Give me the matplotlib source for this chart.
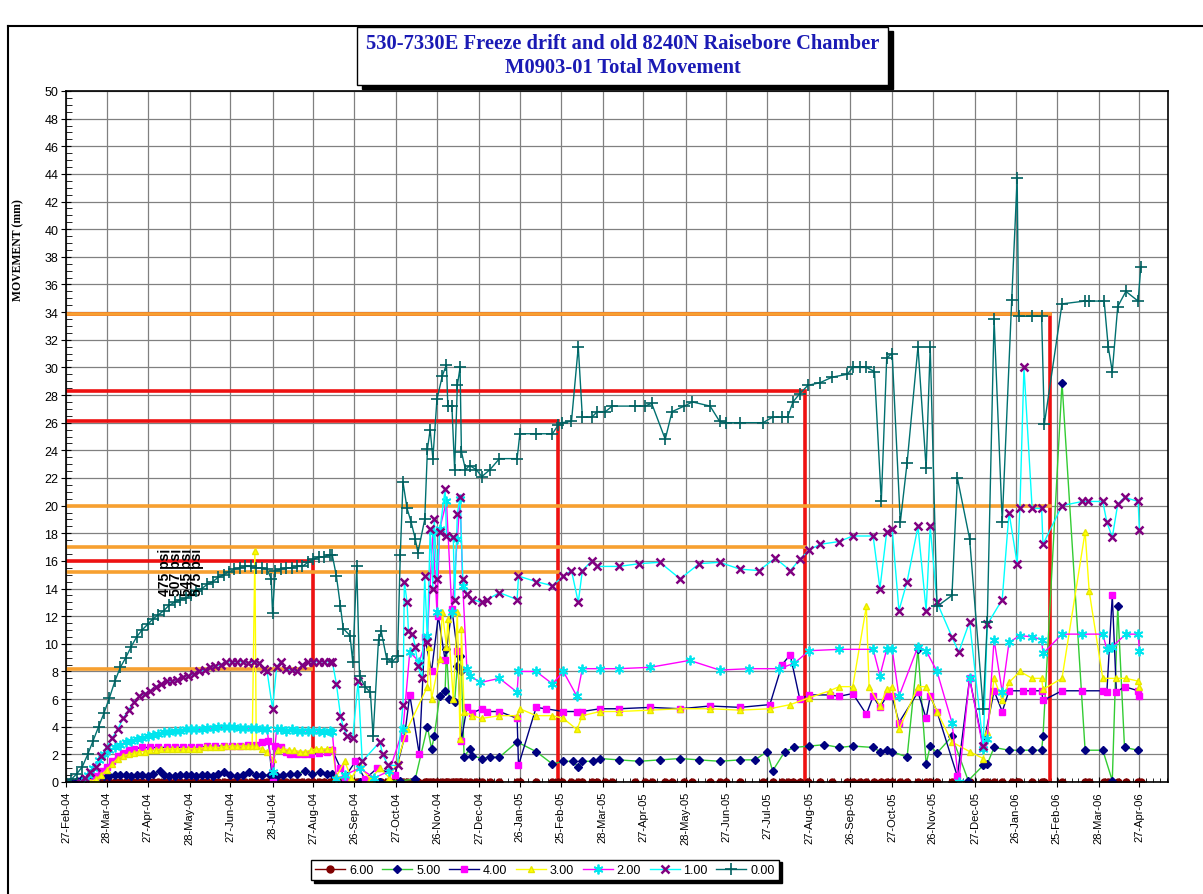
import matplotlib
matplotlib.use("Agg")

import matplotlib.pyplot as plt
import matplotlib.patches as mpatches
from matplotlib.lines import Line2D
from matplotlib.ticker import MultipleLocator
import numpy as np
import pandas as pd

W, H = 1203, 895
START = pd.Timestamp("2004-02-27")

TICK_LABELS = [
    "27-Feb-04", "28-Mar-04", "27-Apr-04", "28-May-04", "27-Jun-04", "28-Jul-04",
    "27-Aug-04", "26-Sep-04", "27-Oct-04", "26-Nov-04", "27-Dec-04", "26-Jan-05",
    "25-Feb-05", "28-Mar-05", "27-Apr-05", "28-May-05", "27-Jun-05", "27-Jul-05",
    "27-Aug-05", "26-Sep-05", "27-Oct-05", "26-Nov-05", "27-Dec-05", "26-Jan-06",
    "25-Feb-06", "28-Mar-06", "27-Apr-06",
]

# --- readings: days after 27-Feb-04 and movement (mm) -----------------------
# 0.00 m
D0 = [0, 4, 8, 12, 16, 20, 24, 28, 32, 36, 40, 44, 48, 52, 56, 60, 64, 68, 72, 76,
      80, 84, 88, 92, 96, 100, 104, 108, 112, 116, 120, 124, 128, 132, 136, 140, 144,
      148, 151, 152, 154, 158, 162, 166, 170, 174, 178, 182, 186, 190, 194, 196,
      199, 202, 204, 209, 211, 214, 216, 220, 224, 226, 230, 232, 236, 240, 244, 246,
      248, 251, 254, 257, 259, 264, 266, 268, 270, 273, 277, 280, 281, 284, 286, 288,
      290, 291, 294, 297, 302, 306, 312, 319, 332, 334, 346, 358, 362, 365, 372, 377,
      380, 387, 391, 397, 402, 419, 426, 431, 441, 446, 455, 461, 474, 481, 486, 496,
      513, 520, 527, 531, 535, 540, 546, 555, 564, 575, 579, 584, 589, 595, 600, 604,
      608, 614, 619, 627, 633, 636, 641, 652, 656, 665, 675, 678, 683, 689, 696, 700,
      701, 711, 718, 720, 733, 750, 753, 764, 767, 770, 774, 780, 789, 791]
V0 = [0.0, 0.2, 0.6, 1.1, 2.0, 3.0, 4.0, 5.0, 6.1, 7.3, 8.3, 9.0, 9.8, 10.5, 11.0,
      11.4, 11.8, 12.1, 12.4, 12.8, 13.0, 13.2, 13.3, 13.5, 13.8, 14.0, 14.3, 14.5,
      14.8, 15.0, 15.2, 15.4, 15.5, 15.6, 15.6, 15.5, 15.5, 15.4, 14.7, 12.2, 15.3,
      15.4, 15.5, 15.5, 15.6, 15.6, 15.9, 16.1, 16.3, 16.3, 16.4, 16.4,
      14.9, 12.7, 11.1, 10.6, 8.7, 15.6, 7.7, 6.9, 6.5, 3.3, 10.3, 10.9, 8.9, 8.7, 9.1,
      16.4, 21.7, 19.8, 18.8, 17.6, 16.6, 19.0, 24.1, 25.5, 23.4, 27.7, 29.4, 30.2,
      27.2, 27.2, 22.6, 28.7, 30.0, 23.9, 22.6, 22.9, 22.6, 22.1, 22.6, 23.4, 23.4,
      25.2, 25.2, 25.2, 25.8, 26.0, 26.1, 31.5, 26.4, 26.4, 26.8, 26.8, 27.2, 27.2,
      27.2, 27.4, 24.8, 26.8, 27.2, 27.5, 27.2, 26.1, 26.0, 26.0, 26.0, 26.4, 26.4,
      26.4, 27.5, 28.1, 28.7, 28.9, 29.3, 29.5, 30.0, 30.0, 30.0, 29.7, 20.3, 30.7,
      31.0, 18.8, 23.1, 31.5, 22.7, 31.5, 12.7, 13.5, 22.0, 17.6, 5.3, 11.6, 33.5,
      18.8, 34.9, 43.7, 33.7, 33.7, 33.7, 25.9, 34.6, 34.8, 34.8, 34.8, 31.5, 29.7,
      34.4, 35.5, 34.8, 37.3]

# 1.00 m
D1 = [10, 14, 18, 22, 26, 30, 34, 38, 42, 46, 50, 54, 58, 62, 66, 70, 74, 78, 82, 86,
      90, 94, 98, 102, 106, 110, 114, 118, 122, 126, 130, 134, 138, 142, 146, 148, 152,
      155, 158, 162, 166, 170, 174, 178, 182, 186, 190, 194, 196,
      199, 202, 204, 207, 211, 215, 218, 231, 233, 237, 244, 248, 249, 251, 252, 255,
      257, 259, 262, 264, 266, 268, 270, 271, 273, 275, 279, 280, 285, 286, 288, 290,
      292, 295, 299, 306, 310, 319, 332, 333, 346, 358, 366, 372, 377, 380, 387, 391,
      407, 422, 437, 452, 466, 481, 496, 510, 522, 533, 540, 547, 555, 569, 579, 594,
      599, 604, 608, 613, 619, 627, 633, 636, 641, 652, 657, 665, 675, 678, 689, 694,
      700, 702, 705, 711, 718, 719, 733, 748, 752, 763, 766, 770, 774, 779, 789, 790]
V1 = [0.0, 0.3, 0.7, 1.1, 1.9, 2.5, 3.2, 3.8, 4.6, 5.2, 5.8, 6.2, 6.4, 6.6, 6.9, 7.1,
      7.3, 7.3, 7.4, 7.6, 7.7, 7.8, 8.0, 8.1, 8.3, 8.4, 8.5, 8.7, 8.7, 8.7, 8.7, 8.6,
      8.7, 8.6, 8.2, 8.0, 5.3, 8.3, 8.7, 8.2, 8.1, 8.0, 8.5, 8.7, 8.7, 8.7, 8.7, 8.7,
      8.7,
      7.1, 4.8, 4.0, 3.3, 3.2, 7.3, 1.5, 2.9, 2.0, 1.2, 1.2, 5.6, 14.5, 13.0, 10.9,
      10.7, 9.8, 8.4, 7.5, 14.9, 10.1, 18.3, 14.0, 19.0, 14.7, 18.1, 21.2, 17.8, 17.7,
      13.2, 19.4, 20.6, 14.7, 13.6, 13.2, 13.0, 13.2, 13.7, 13.2, 14.9, 14.5, 14.2,
      14.9, 15.3, 13.0, 15.3, 16.0, 15.6, 15.6, 15.8, 15.9, 14.7, 15.8, 15.9, 15.4,
      15.3, 16.2, 15.3, 16.1, 16.8, 17.2, 17.4, 17.8, 17.8, 14.0, 18.1, 18.3, 12.4,
      14.5, 18.5, 12.4, 18.5, 13.0, 10.5, 9.4, 11.6, 2.6, 11.4, 13.2, 19.5, 15.8,
      19.8, 30.0, 19.8, 19.8, 17.2, 20.0, 20.3, 20.3, 20.3, 18.8, 17.7, 20.1, 20.6,
      20.3, 18.2]

# 2.00 m
D2 = [12, 16, 20, 24, 28, 32, 36, 40, 44, 48, 52, 56, 60, 64, 68, 72, 76, 80, 84, 88,
      92, 96, 100, 104, 108, 112, 116, 120, 124, 128, 132, 136, 140, 144, 148, 152,
      155, 158, 162, 166, 170, 174, 178, 182, 186, 190, 194, 196,
      199, 205, 216, 227, 238, 248, 253, 260, 266, 270, 273, 275, 280, 284, 288, 290,
      292, 295, 297, 305, 319, 332, 333, 346, 358, 366, 376, 380, 393, 407, 430, 459,
      481, 503, 525, 536, 547, 569, 594, 599, 604, 608, 613, 627, 633, 641, 652, 657,
      665, 675, 678, 683, 689, 694, 702, 711, 718, 719, 733, 748, 763, 766, 770, 780,
      789, 790]
V2 = [0.0, 0.5, 1.0, 1.6, 2.0, 2.3, 2.5, 2.7, 2.9, 3.0, 3.1, 3.2, 3.3, 3.4, 3.5, 3.6,
      3.6, 3.7, 3.7, 3.8, 3.8, 3.8, 3.8, 3.9, 3.9, 4.0, 4.0, 4.0, 4.0, 3.9, 3.9, 3.9,
      3.9, 3.8, 3.8, 0.7, 3.8, 3.8, 3.7, 3.8, 3.7, 3.7, 3.7, 3.7, 3.7, 3.6, 3.7, 3.6,
      0.2, 0.5, 1.0, 0.3, 0.8, 3.8, 9.4, 8.7, 10.6, 18.1, 12.3, 18.3, 20.3, 12.3, 17.6,
      20.5, 14.2, 8.2, 7.7, 7.2, 7.5, 6.5, 8.0, 8.0, 7.1, 8.0, 6.2, 8.2, 8.2, 8.2,
      8.3, 8.8, 8.1, 8.2, 8.2, 8.6, 9.5, 9.6, 9.6, 7.7, 9.6, 9.6, 6.2, 9.8, 9.5, 8.0,
      4.3, 0.0, 7.5, 2.4, 3.1, 10.3, 6.5, 10.1, 10.6, 10.5, 10.3, 9.3, 10.7, 10.7,
      10.7, 9.6, 9.8, 10.7, 10.7, 9.5]

# 3.00 m
D3 = [18, 22, 26, 30, 34, 38, 42, 46, 50, 54, 58, 62, 66, 70, 74, 78, 82, 86, 90, 94,
      98, 102, 106, 110, 114, 118, 122, 126, 130, 134, 137, 139, 140, 144, 148, 152,
      156, 160, 164, 168, 172, 176, 180, 184, 188, 192, 196,
      199, 205, 210, 216, 224, 231, 238, 244, 251, 266, 267, 269, 275, 277, 280, 281,
      285, 288, 290, 291, 293, 299, 306, 319, 332, 334, 346, 358, 366, 376, 380, 393,
      407, 430, 452, 474, 496, 518, 533, 547, 562, 569, 579, 589, 591, 599, 604, 608,
      613, 627, 633, 641, 652, 665, 675, 678, 683, 689, 694, 702, 711, 718, 719, 733,
      750, 753, 763, 773, 780, 789, 790]
V3 = [0.0, 0.2, 0.5, 0.9, 1.3, 1.7, 1.9, 2.0, 2.1, 2.2, 2.2, 2.3, 2.3, 2.4, 2.4, 2.4,
      2.4, 2.4, 2.4, 2.4, 2.4, 2.5, 2.5, 2.5, 2.5, 2.6, 2.6, 2.6, 2.6, 2.6, 2.6, 16.7,
      2.6, 2.4, 2.2, 1.7, 2.3, 2.4, 2.3, 2.3, 2.2, 2.2, 2.3, 2.4, 2.4, 2.4, 2.4,
      0.4, 1.5, 0.3, 1.2, 0.2, 1.0, 0.3, 1.5, 3.8, 6.9, 9.8, 6.0, 8.9, 12.3, 9.8, 11.8,
      6.0, 12.3, 3.1, 11.1, 5.1, 4.8, 4.6, 4.8, 4.8, 5.3, 4.8, 4.8, 4.6, 3.8, 4.8, 5.1,
      5.1, 5.2, 5.3, 5.3, 5.2, 5.3, 5.6, 6.1, 6.6, 6.9, 6.9, 12.7, 6.9, 5.5, 6.7, 6.9,
      3.8, 6.9, 6.9, 5.1, 2.9, 2.2, 1.7, 3.6, 7.5, 5.9, 7.2, 8.0, 7.5, 7.5, 6.7, 7.5,
      18.1, 13.8, 7.5, 7.5, 7.5, 7.3, 6.9]

# 4.00 m
D4 = [18, 22, 26, 30, 34, 38, 42, 46, 50, 56, 62, 68, 74, 80, 86, 92, 98, 104, 110,
      116, 122, 128, 134, 140, 144, 149, 152, 154, 158, 162, 165, 170, 175, 180, 186,
      192, 196,
      202, 205, 213, 220, 229, 242, 249, 253, 260, 264, 269, 274, 279, 284, 288, 291,
      295, 299, 306, 310, 319, 332, 333, 346, 353, 366, 376, 380, 393, 407, 430, 452,
      474, 496, 518, 527, 533, 540, 547, 562, 569, 579, 589, 594, 599, 604, 608, 613,
      627, 633, 636, 641, 656, 665, 675, 683, 689, 694, 704, 711, 718, 719, 733, 748,
      763, 766, 770, 773, 779, 789, 790]
V4 = [0.0, 0.4, 0.8, 1.1, 1.5, 1.9, 2.1, 2.3, 2.4, 2.5, 2.5, 2.5, 2.5, 2.5, 2.5, 2.5,
      2.5, 2.6, 2.6, 2.6, 2.6, 2.6, 2.7, 2.7, 2.9, 3.0, 0.0, 2.6, 2.5, 2.2, 2.0, 2.0,
      2.0, 2.0, 2.1, 2.2, 2.3,
      1.0, 0.3, 1.5, 0.2, 1.0, 0.5, 3.2, 6.3, 2.0, 10.5, 8.0, 12.0, 8.8, 12.5, 9.5,
      3.0, 5.4, 5.0, 5.3, 5.1, 5.1, 4.6, 1.2, 5.4, 5.3, 5.1, 5.1, 5.1, 5.3, 5.3, 5.4,
      5.3, 5.5, 5.4, 5.6, 8.5, 9.2, 6.0, 6.3, 6.3, 6.2, 6.4, 4.9, 6.2, 5.4, 6.2, 6.2,
      4.3, 6.5, 4.6, 6.2, 5.1, 0.4, 7.5, 2.6, 6.6, 5.1, 6.6, 6.6, 6.6, 6.6, 5.9, 6.6,
      6.6, 6.6, 6.5, 13.5, 6.5, 6.9, 6.6, 6.2]

# 5.00 m
D5 = [3, 8, 12, 16, 20, 24, 28, 32, 36, 40, 44, 48, 52, 56, 60, 64, 69, 72, 76, 80,
      84, 88, 92, 96, 100, 104, 108, 112, 116, 121, 126, 130, 135, 140, 144, 150, 155,
      160, 165, 170, 176, 181, 187, 192, 196,
      205, 216, 231, 246, 257, 266, 269, 271, 275, 279, 280, 282, 286, 288, 290, 291,
      293, 297, 299, 306, 312, 319, 332, 346, 358, 366, 373, 377, 380, 388, 393, 407,
      422, 437, 452, 466, 481, 496, 507, 516, 520, 529, 536, 547, 558, 569, 579, 594,
      599, 604, 608, 619, 627, 633, 636, 641, 652, 664, 675, 678, 683, 694, 702, 711,
      718, 719, 733, 750, 763, 770, 774, 779, 789]
V5 = [0.0, 0.1, 0.2, 0.3, 0.3, 0.4, 0.4, 0.4, 0.5, 0.5, 0.5, 0.4, 0.5, 0.5, 0.4, 0.6,
      0.8, 0.5, 0.4, 0.4, 0.5, 0.5, 0.5, 0.4, 0.5, 0.5, 0.4, 0.6, 0.7, 0.5, 0.4, 0.5,
      0.7, 0.5, 0.5, 0.5, 0.4, 0.5, 0.6, 0.6, 0.8, 0.6, 0.7, 0.6, 0.6,
      0.1, 0.0, 0.0, 0.1, 0.2, 4.0, 2.4, 3.3, 6.2, 6.6, 9.6, 6.0, 5.8, 8.4, 9.1, 8.0,
      1.8, 2.4, 1.9, 1.7, 1.8, 1.8, 2.9, 2.2, 1.3, 1.5, 1.5, 1.1, 1.5, 1.5, 1.7, 1.6,
      1.5, 1.6, 1.7, 1.6, 1.5, 1.6, 1.6, 2.2, 0.8, 2.2, 2.5, 2.6, 2.7, 2.5, 2.6, 2.5,
      2.2, 2.3, 2.2, 1.8, 9.6, 1.3, 2.6, 2.1, 3.3, 0.1, 1.2, 1.3, 2.5, 2.3, 2.3, 2.3,
      2.3, 3.3, 28.9, 2.3, 2.3, 0.1, 12.7, 2.5, 2.3]

# 6.00 m reads zero at every visit
D6 = D0
V6 = [0.0] * len(D6)

SERIES = [("6.00", D6, V6), ("5.00", D5, V5), ("4.00", D4, V4), ("3.00", D3, V3),
          ("2.00", D2, V2), ("1.00", D1, V1), ("0.00", D0, V0)]

# pressure step lines (mm level, day the step ends)
RED_LEVELS = [16.0, 26.1, 28.3, 33.9]
RED_END = [182, 362, 544, 724]
ORANGE_LEVELS = [8.2, 15.2, 17.0, 20.0, 33.9]
ORANGE_END = [180, 362, 544, 724, 724]
PRESSURES = ["475 psi", "507 psi", "545 psi", "575 psi"]

STYLE = {
    "6.00": dict(color="#800000", marker="o", mfc="#800000", mec="#800000", ms=5),
    "5.00": dict(color="#33cc33", marker="D", mfc="#000080", mec="#000080", ms=4.5),
    "4.00": dict(color="#000080", marker="s", mfc="#ff00ff", mec="#ff00ff", ms=5),
    "3.00": dict(color="#ffff00", marker="^", mfc="#ffff00", mec="#e6e600", ms=5),
    "2.00": dict(color="#ff00ff", marker=(6, 2, 0), mfc="#00e5ee", mec="#00e5ee", ms=7, mew=1.3),
    "1.00": dict(color="#00ffff", marker="x", mfc="#800080", mec="#800080", ms=6, mew=1.8),
    "0.00": dict(color="#007070", marker="+", mfc="#006060", mec="#006060", ms=8, mew=1.2),
}


def to_dates(days):
    return START + pd.to_timedelta(np.asarray(days, dtype=float), unit="D")


def main():
    plt.rcParams["font.family"] = ["Liberation Sans", "DejaVu Sans"]
    fig = plt.figure(figsize=(W / 100, H / 100), dpi=100)
    ax = fig.add_axes([66 / W, 1 - 783 / H, (1168 - 66) / W, (783 - 92) / H])

    # step lines
    for lvl, end in zip(RED_LEVELS, RED_END):
        d = to_dates([0, end, end])
        ax.plot(d, [lvl, lvl, 0], color="#ee1111", lw=2.6, zorder=2.1, solid_joinstyle="miter")
    for lvl, end in zip(ORANGE_LEVELS, ORANGE_END):
        ax.plot(to_dates([0, end]), [lvl, lvl], color="#f7a030", lw=2.6, zorder=2.2)

    handles = []
    for name, d, v in SERIES:
        st = dict(STYLE[name])
        line, = ax.plot(to_dates(d), v, lw=1.0, zorder=2.5, label=name, **st)
        handles.append(line)

    ax.text(to_dates([68])[0], 13.5, "\n".join(PRESSURES), rotation=90, ha="left",
            va="bottom", fontsize=10, fontweight="bold", linespacing=0.7, zorder=4)

    ax.set_ylim(0, 50)
    ax.set_xlim(to_dates([0])[0], to_dates([811])[0])
    ax.yaxis.set_major_locator(MultipleLocator(2))
    ax.yaxis.set_minor_locator(MultipleLocator(0.5))
    ticks = pd.to_datetime(TICK_LABELS, format="%d-%b-%y")
    ax.set_xticks(ticks)
    ax.set_xticklabels(TICK_LABELS, rotation=90, fontsize=8)
    ax.set_xticks(to_dates(np.arange(0, 811, 5)), minor=True)
    ax.tick_params(axis="y", which="major", direction="inout", length=7, labelsize=9, pad=2)
    ax.tick_params(axis="y", which="minor", direction="in", length=4)
    ax.tick_params(axis="x", which="major", direction="inout", length=7, pad=3)
    ax.tick_params(axis="x", which="minor", direction="in", length=3)
    ax.grid(True, which="major", color="#808080", lw=0.9)
    ax.set_axisbelow(True)
    for sp in ax.spines.values():
        sp.set_linewidth(1.2)

    fig.text(18 / W, 1 - 250 / H, "MOVEMENT (mm)", rotation=90, ha="center", va="center",
             fontsize=8.5, fontweight="bold", family="Liberation Serif")

    # outer frame
    fig.add_artist(Line2D([8 / W, 8 / W], [0, 1 - 27 / H], color="black", lw=1.5))
    fig.add_artist(Line2D([8 / W, 1], [1 - 27 / H, 1 - 27 / H], color="black", lw=1.5))

    # title box with shadow
    bx, by, bw, bh = 357, 28, 531, 58
    fig.add_artist(mpatches.Rectangle(((bx + 5) / W, 1 - (by + bh + 4) / H), bw / W, bh / H,
                                      fc="black", ec="black", transform=fig.transFigure))
    fig.add_artist(mpatches.Rectangle((bx / W, 1 - (by + bh) / H), bw / W, bh / H,
                                      fc="white", ec="black", lw=1, transform=fig.transFigure))
    for yy, txt in [(44, "530-7330E Freeze drift and old 8240N Raisebore Chamber"),
                    (68, "M0903-01 Total Movement")]:
        fig.text((bx + bw / 2) / W, 1 - yy / H, txt, ha="center", va="center",
                 fontsize=14.8, fontweight="bold", color="#1a1ab4", family="Liberation Serif")

    fig.legend(handles=handles, loc="center", bbox_to_anchor=(545 / W, 1 - 871 / H), ncol=7,
               fontsize=9, frameon=True, fancybox=False, edgecolor="black", framealpha=1,
               shadow={"color": "black", "alpha": 1}, handlelength=2.4, handletextpad=0.3,
               columnspacing=0.7, borderpad=0.35)

    fig.savefig("out.png", dpi=100)


if __name__ == "__main__":
    main()
